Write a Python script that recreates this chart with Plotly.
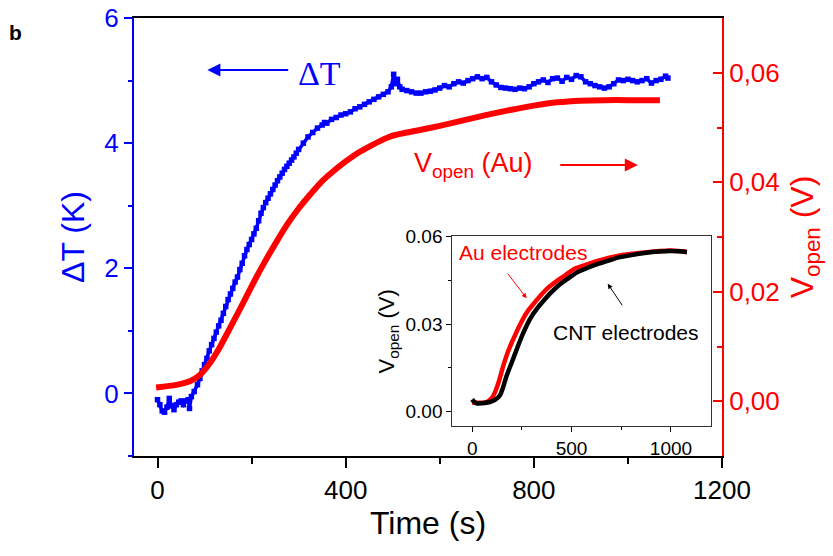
import plotly.graph_objects as go

# ---- Main panel: temperature difference (left axis) ----
dT_time = [0, 5, 10, 15, 20, 25, 30, 35, 40, 45, 50, 55, 60, 65, 68, 72, 78, 85, 90, 95,
           100, 105, 110, 115, 120, 125, 130, 135, 140, 145, 150, 155, 160, 165, 170, 175,
           180, 185, 190, 195, 200, 205, 210, 215, 220, 225, 230, 235, 240, 245, 250, 255,
           260, 265, 270, 275, 280, 285, 290, 295, 300, 310, 320, 330, 340, 350, 355, 360,
           370, 380, 390, 400, 410, 420, 430, 440, 450, 460, 470, 480, 490, 497, 502, 506,
           510, 515, 520, 530, 540, 550, 560, 570, 580, 590, 600, 610, 620, 630, 640, 650,
           660, 670, 680, 690, 700, 710, 720, 730, 740, 750, 760, 770, 780, 790, 800, 810,
           820, 830, 840, 850, 860, 870, 880, 890, 900, 910, 920, 930, 940, 950, 960, 970,
           980, 990, 1000, 1010, 1020, 1030, 1040, 1050, 1060, 1070, 1080, 1085]
dT_vals = [-0.10, -0.18, -0.28, -0.30, -0.22, -0.08, -0.20, -0.26, -0.18, -0.14, -0.12, -0.18,
           -0.12, -0.10, -0.24, -0.05, 0.03, 0.14, 0.24, 0.36, 0.46, 0.56, 0.68, 0.78, 0.88,
           0.98, 1.08, 1.17, 1.28, 1.39, 1.50, 1.59, 1.68, 1.78, 1.86, 1.98, 2.08, 2.20, 2.30,
           2.38, 2.46, 2.55, 2.64, 2.76, 2.88, 2.97, 3.05, 3.12, 3.19, 3.26, 3.33, 3.40, 3.46,
           3.52, 3.58, 3.63, 3.68, 3.73, 3.78, 3.84, 3.90, 4.00, 4.10, 4.17, 4.24, 4.29, 4.33,
           4.32, 4.38, 4.41, 4.45, 4.47, 4.50, 4.55, 4.58, 4.62, 4.66, 4.70, 4.74, 4.78, 4.82,
           4.90, 5.10, 4.95, 5.02, 4.90, 4.86, 4.84, 4.82, 4.80, 4.80, 4.82, 4.83, 4.85, 4.88,
           4.92, 4.90, 4.95, 4.98, 4.96, 5.00, 5.03, 5.06, 5.03, 5.05, 4.98, 4.93, 4.89, 4.88,
           4.87, 4.86, 4.88, 4.87, 4.90, 4.95, 4.98, 5.01, 4.97, 5.03, 5.04, 4.99, 5.05, 5.02,
           5.08, 5.06, 4.98, 4.95, 4.92, 4.90, 4.88, 4.90, 4.95, 5.01, 5.00, 5.02, 5.00, 4.98,
           5.00, 5.03, 4.96, 5.00, 5.02, 5.07, 5.04]

# ---- Main panel: open-circuit voltage with Au electrodes (right axis) ----
vopen_time = [-3, 40, 70, 90, 110, 130, 150, 175, 200, 225, 250, 275, 300, 325, 350, 375, 400,
              425, 450, 475, 500, 525, 550, 600, 650, 700, 750, 800, 850, 900, 950, 1000, 1068]
vopen_vals = [0.0025, 0.0030, 0.0037, 0.0048, 0.0068, 0.0095, 0.0127, 0.0168, 0.0210, 0.0250,
              0.0287, 0.0322, 0.0352, 0.0378, 0.0402, 0.0421, 0.0438, 0.0453, 0.0465, 0.0476,
              0.0485, 0.0490, 0.0494, 0.0503, 0.0513, 0.0523, 0.0532, 0.0540, 0.0546, 0.0549,
              0.0550, 0.0550, 0.0550]

# ---- Inset: Au vs CNT electrodes ----
au_time = [0, 30, 72, 100, 114, 135, 156, 180, 206, 240, 274, 310, 341, 380, 425, 470, 509,
           560, 626, 690, 744, 810, 878, 940, 995, 1040, 1080]
au_vals = [0.0031, 0.0030, 0.0033, 0.0048, 0.0065, 0.0105, 0.0156, 0.0205, 0.0247, 0.0297,
           0.0339, 0.0370, 0.0395, 0.0423, 0.0447, 0.0468, 0.0487, 0.0500, 0.0515, 0.0527,
           0.0535, 0.0541, 0.0546, 0.0550, 0.0552, 0.0550, 0.0547]
cnt_time = [0, 8, 22, 50, 89, 115, 139, 155, 173, 200, 224, 255, 290, 325, 357, 400, 442, 485,
            526, 575, 626, 690, 744, 810, 878, 940, 995, 1040, 1080]
cnt_vals = [0.0042, 0.0035, 0.0028, 0.0029, 0.0033, 0.0040, 0.0055, 0.0082, 0.0122, 0.0170,
            0.0213, 0.0266, 0.0316, 0.0352, 0.0378, 0.0410, 0.0436, 0.0457, 0.0476, 0.0491,
            0.0504, 0.0518, 0.0529, 0.0537, 0.0544, 0.0548, 0.0550, 0.0549, 0.0546]

# ---- Tick labels ----
x_ticks = [0, 400, 800, 1200]
x_ticklabels = ["0", "400", "800", "1200"]
dT_ticks = [0, 2, 4, 6]
dT_ticklabels = ["0", "2", "4", "6"]
v_ticks = [0.00, 0.02, 0.04, 0.06]
v_ticklabels = ["0,00", "0,02", "0,04", "0,06"]
inset_x_ticks = [0, 500, 1000]
inset_x_ticklabels = ["0", "500", "1000"]
inset_y_ticks = [0.00, 0.03, 0.06]
inset_y_ticklabels = ["0.00", "0.03", "0.06"]

BLUE = "#0000ff"
RED = "#ff0000"
FONT = "Liberation Sans, Arial, Helvetica, sans-serif"

fig = go.Figure()

fig.add_trace(go.Scatter(
    x=dT_time, y=dT_vals, mode="lines+markers",
    line=dict(color=BLUE, width=3.5),
    marker=dict(symbol="square", size=5.5, color=BLUE),
    xaxis="x", yaxis="y", showlegend=False))

fig.add_trace(go.Scatter(
    x=vopen_time, y=vopen_vals, mode="lines",
    line=dict(color=RED, width=6, shape="spline", smoothing=0.6),
    xaxis="x", yaxis="y2", showlegend=False))

fig.add_trace(go.Scatter(
    x=au_time, y=au_vals, mode="lines",
    line=dict(color=RED, width=4.5, shape="spline", smoothing=0.8),
    xaxis="x3", yaxis="y3", showlegend=False))

fig.add_trace(go.Scatter(
    x=cnt_time, y=cnt_vals, mode="lines",
    line=dict(color="black", width=4.5, shape="spline", smoothing=0.8),
    xaxis="x3", yaxis="y3", showlegend=False))

tick_font = dict(family=FONT, size=26)

fig.update_layout(
    width=833, height=556,
    margin=dict(l=134, r=111, t=18, b=100),
    paper_bgcolor="white", plot_bgcolor="white",
    font=dict(family=FONT),
    xaxis=dict(
        domain=[0, 1], range=[-50, 1200], anchor="y", automargin=False,
        tickvals=x_ticks, ticktext=x_ticklabels,
        ticks="outside", ticklen=10, tickwidth=1.5, tickcolor="black",
        minor=dict(dtick=200, tick0=0, ticks="outside", ticklen=6, tickwidth=1.5, tickcolor="black"),
        showline=True, linecolor="black", linewidth=1.5, mirror=True,
        showgrid=False, zeroline=False,
        tickfont=dict(tick_font, color="black"),
        title=dict(text="Time (s)", font=dict(family=FONT, size=32, color="black"), standoff=8),
    ),
    yaxis=dict(
        domain=[0, 1], range=[-1, 6], anchor="x", automargin=False,
        tickvals=dT_ticks, ticktext=dT_ticklabels,
        ticks="outside", ticklen=8, tickwidth=1.5, tickcolor=BLUE,
        minor=dict(dtick=2, tick0=1, ticks="outside", ticklen=4, tickwidth=1.5, tickcolor=BLUE),
        showline=True, linecolor=BLUE, linewidth=2,
        showgrid=False, zeroline=False,
        tickfont=dict(tick_font, color=BLUE),
        title=dict(text="\u0394T (K)", font=dict(family=FONT, size=32, color=BLUE), standoff=10),
    ),
    yaxis2=dict(
        range=[-0.01, 0.07], overlaying="y", side="right", anchor="x", automargin=False,
        tickvals=v_ticks, ticktext=v_ticklabels,
        ticks="inside", ticklen=9, tickwidth=1.5, tickcolor=RED,
        minor=dict(dtick=0.02, tick0=0.01, ticks="inside", ticklen=5, tickwidth=1.5, tickcolor=RED),
        showline=True, linecolor=RED, linewidth=2,
        showgrid=False, zeroline=False,
        tickfont=dict(tick_font, color=RED),
        title=dict(text="V<sub>open</sub> (V)", font=dict(family=FONT, size=32, color=RED), standoff=12),
    ),
    xaxis3=dict(
        domain=[0.5413, 0.9808], range=[-100, 1200], anchor="y3", automargin=False,
        tickvals=inset_x_ticks, ticktext=inset_x_ticklabels,
        ticks="outside", ticklen=5, tickwidth=1, tickcolor="black",
        minor=dict(dtick=500, tick0=250, ticks="outside", ticklen=3, tickwidth=1, tickcolor="black"),
        showline=True, linecolor="#333333", linewidth=1, mirror=True,
        showgrid=False, zeroline=False,
        tickfont=dict(family=FONT, size=19, color="black"),
    ),
    yaxis3=dict(
        domain=[0.068, 0.5013], range=[-0.005, 0.06], anchor="x3", automargin=False,
        tickvals=inset_y_ticks, ticktext=inset_y_ticklabels,
        ticks="outside", ticklen=5, tickwidth=1, tickcolor="black",
        minor=dict(dtick=0.03, tick0=0.015, ticks="outside", ticklen=3, tickwidth=1, tickcolor="black"),
        showline=True, linecolor="#333333", linewidth=1, mirror=True,
        showgrid=False, zeroline=False,
        tickfont=dict(family=FONT, size=19, color="black"),
        title=dict(text="V<sub>open</sub> (V)", font=dict(family=FONT, size=22, color="black"), standoff=4),
    ),
)

annotations = [
    # panel letter
    dict(text="<b>b</b>", xref="paper", yref="paper", x=-0.216, y=0.998,
         showarrow=False, font=dict(family=FONT, size=21, color="black")),
    # ΔT label with arrow pointing to the left axis
    dict(text="\u0394T", xref="x", yref="y", x=345, y=5.12, showarrow=False,
         font=dict(family="Liberation Serif, Times New Roman, serif", size=34, color=BLUE)),
    dict(text="", xref="x", yref="y", x=106, y=5.17, axref="x", ayref="y", ax=281, ay=5.17,
         showarrow=True, arrowhead=2, arrowsize=1.3, arrowwidth=2, arrowcolor=BLUE, standoff=0),
    # V_open (Au) label with arrow pointing to the right axis
    dict(text="V<sub>open</sub> (Au)", xref="x", yref="y", x=672, y=3.65, showarrow=False,
         font=dict(family=FONT, size=27, color=RED)),
    dict(text="", xref="x", yref="y", x=1021, y=3.65, axref="x", ayref="y", ax=853, ay=3.65,
         showarrow=True, arrowhead=2, arrowsize=1.3, arrowwidth=2, arrowcolor=RED, standoff=0),
    # inset labels
    dict(text="Au electrodes", xref="x3", yref="y3", x=255, y=0.0545, showarrow=False,
         font=dict(family=FONT, size=21, color=RED)),
    dict(text="", xref="x3", yref="y3", x=274, y=0.0388, axref="x3", ayref="y3", ax=173, ay=0.0478,
         showarrow=True, arrowhead=2, arrowsize=1, arrowwidth=1, arrowcolor=RED, standoff=0),
    dict(text="CNT electrodes", xref="x3", yref="y3", x=774, y=0.0271, showarrow=False,
         font=dict(family=FONT, size=21, color="black")),
    dict(text="", xref="x3", yref="y3", x=682, y=0.0438, axref="x3", ayref="y3", ax=760, ay=0.0359,
         showarrow=True, arrowhead=2, arrowsize=1, arrowwidth=1, arrowcolor="black", standoff=0),
]
fig.update_layout(annotations=annotations)

fig.write_html("out.html")
